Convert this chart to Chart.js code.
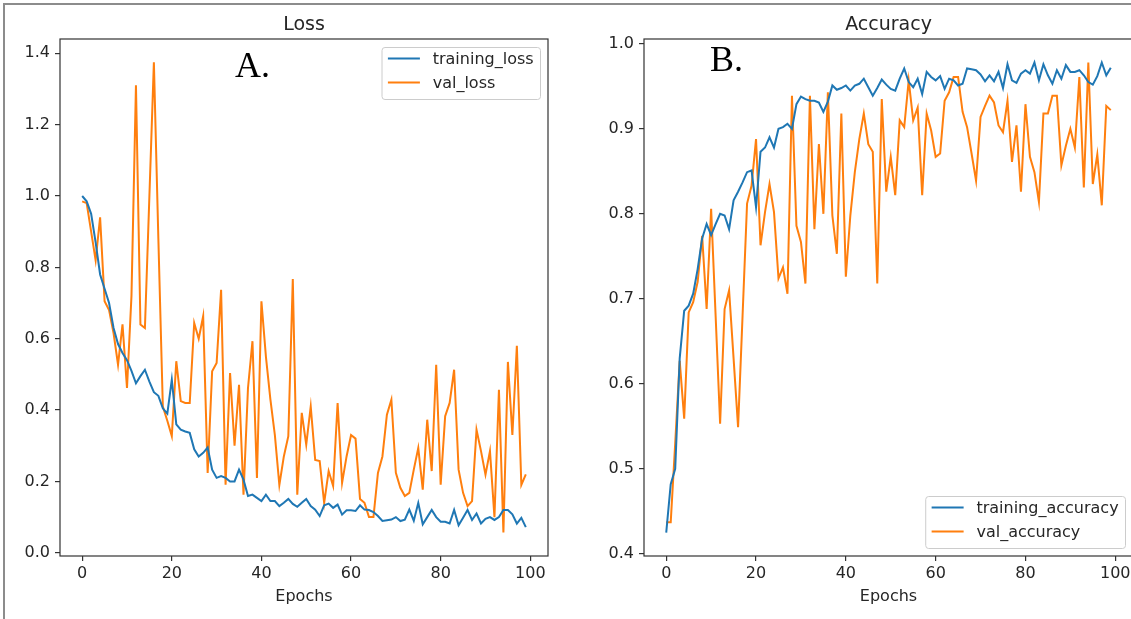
<!DOCTYPE html>
<html>
<head>
<meta charset="utf-8">
<title>Loss / Accuracy</title>
<script src="https://cdn.jsdelivr.net/npm/chart.js@4.4.0/dist/chart.umd.min.js"></script>
<style>
  html, body { margin: 0; padding: 0; background: #fff; overflow: hidden; }
  body { width: 1131px; height: 619px; position: relative; }
  #frame { position: absolute; left: 3px; top: 3px; width: 1300px; height: 800px;
           border-top: 2px solid #8c8c8c; border-left: 2px solid #8c8c8c; }
  canvas { position: absolute; top: 0; }
  #lossChart { left: 0; }
  #accChart { left: 590px; }
</style>
</head>
<body>
<div id="frame"></div>
<canvas id="lossChart" width="590" height="619"></canvas>
<canvas id="accChart" width="600" height="619"></canvas>
<script>
'use strict';

// epochs 0..99
const epochs = Array.from({ length: 100 }, (_, i) => i);
const epochTicks = [0, 20, 40, 60, 80, 100];
const lossTicks = [0.0, 0.2, 0.4, 0.6, 0.8, 1.0, 1.2, 1.4];
const accTicks = [0.4, 0.5, 0.6, 0.7, 0.8, 0.9, 1.0];

const trainingLoss = [
  1.00, 0.985, 0.95, 0.87, 0.78, 0.74, 0.70, 0.63, 0.585, 0.56,
  0.54, 0.51, 0.475, 0.495, 0.513, 0.48, 0.45, 0.44, 0.405, 0.39,
  0.485, 0.36, 0.345, 0.34, 0.336, 0.29, 0.27, 0.28, 0.295, 0.233,
  0.21, 0.215, 0.21, 0.20, 0.20, 0.233, 0.205, 0.159, 0.163, 0.154,
  0.145, 0.163, 0.145, 0.145, 0.131, 0.14, 0.151, 0.137, 0.129, 0.14,
  0.151, 0.131, 0.121, 0.103, 0.133, 0.138, 0.126, 0.135, 0.107, 0.119,
  0.119, 0.117, 0.133, 0.121, 0.12, 0.114, 0.103, 0.089, 0.091, 0.093,
  0.10, 0.089, 0.093, 0.121, 0.09, 0.14, 0.08, 0.10, 0.12, 0.10,
  0.087, 0.087, 0.082, 0.12, 0.077, 0.098, 0.12, 0.092, 0.11, 0.082,
  0.095, 0.10, 0.092, 0.10, 0.12, 0.12, 0.108, 0.082, 0.098, 0.072
];
const valLoss = [
  0.985, 0.98, 0.90, 0.82, 0.94, 0.705, 0.68, 0.616, 0.527, 0.64,
  0.462, 0.72, 1.31, 0.64, 0.63, 1.0, 1.375, 0.88, 0.41, 0.37,
  0.327, 0.537, 0.425, 0.42, 0.42, 0.644, 0.60, 0.663, 0.224, 0.509,
  0.532, 0.737, 0.191, 0.504, 0.30, 0.471, 0.163, 0.462, 0.593, 0.21,
  0.705, 0.55, 0.43, 0.33, 0.19, 0.27, 0.327, 0.767, 0.163, 0.392,
  0.303, 0.41, 0.26, 0.257, 0.14, 0.229, 0.187, 0.42, 0.196, 0.27,
  0.33, 0.32, 0.151, 0.14, 0.10, 0.10, 0.224, 0.27, 0.387, 0.429,
  0.224, 0.182, 0.159, 0.168, 0.233, 0.294, 0.177, 0.373, 0.229, 0.527,
  0.191, 0.383, 0.42, 0.513, 0.233, 0.168, 0.131, 0.145, 0.345, 0.285,
  0.219, 0.285, 0.10, 0.457, 0.057, 0.535, 0.33, 0.58, 0.19, 0.22
];
const trainingAcc = [
  0.425, 0.482, 0.50, 0.63, 0.686, 0.692, 0.706, 0.735, 0.771, 0.788,
  0.775, 0.788, 0.80, 0.798, 0.782, 0.816, 0.826, 0.837, 0.849, 0.851,
  0.808, 0.873, 0.878, 0.89, 0.878, 0.90, 0.902, 0.906, 0.90, 0.929,
  0.938, 0.935, 0.933, 0.933, 0.931, 0.92, 0.932, 0.951, 0.946, 0.948,
  0.951, 0.945, 0.951, 0.953, 0.959, 0.949, 0.939, 0.948, 0.958, 0.952,
  0.947, 0.945, 0.959, 0.971, 0.955, 0.949, 0.959, 0.941, 0.967, 0.961,
  0.957, 0.962, 0.947, 0.959, 0.957, 0.951, 0.953, 0.971, 0.97, 0.969,
  0.964, 0.956, 0.963, 0.956, 0.967, 0.948, 0.976, 0.957, 0.954, 0.965,
  0.969, 0.965, 0.978, 0.957, 0.976, 0.963, 0.953, 0.969, 0.959, 0.975,
  0.967, 0.967, 0.969, 0.963, 0.955, 0.952, 0.962, 0.978, 0.963, 0.972
];
const valAcc = [
  0.437, 0.437, 0.53, 0.627, 0.559, 0.684, 0.696, 0.72, 0.774, 0.688,
  0.806, 0.68, 0.553, 0.688, 0.71, 0.63, 0.549, 0.68, 0.812, 0.833,
  0.888, 0.763, 0.802, 0.835, 0.802, 0.724, 0.737, 0.706, 0.939, 0.786,
  0.767, 0.718, 0.939, 0.782, 0.882, 0.80, 0.943, 0.798, 0.753, 0.918,
  0.726, 0.798, 0.849, 0.888, 0.918, 0.882, 0.873, 0.718, 0.935, 0.826,
  0.867, 0.822, 0.91, 0.902, 0.957, 0.91, 0.925, 0.822, 0.918, 0.898,
  0.867, 0.871, 0.933, 0.943, 0.961, 0.961, 0.92, 0.902, 0.871, 0.839,
  0.914, 0.927, 0.939, 0.931, 0.904, 0.896, 0.933, 0.861, 0.904, 0.826,
  0.929, 0.867, 0.849, 0.814, 0.918, 0.918, 0.939, 0.939, 0.857, 0.88,
  0.90, 0.878, 0.961, 0.831, 0.978, 0.835, 0.87, 0.81, 0.927, 0.922
];

const BLUE = '#1f77b4';
const ORANGE = '#ff7f0e';
const TEXT = '#262626';
const FONT = '"DejaVu Sans", sans-serif';

// frame, title, panel letter, legend and x label (matplotlib look)
const decor = {
  id: 'decor',
  afterDraw(chart, args, opts) {
    const ctx = chart.ctx;
    const a = chart.chartArea;
    const cx = (a.left + a.right) / 2;
    ctx.save();

    ctx.strokeStyle = '#333';
    ctx.lineWidth = 1.2;
    ctx.strokeRect(a.left, a.top, a.right - a.left, a.bottom - a.top);

    ctx.fillStyle = TEXT;
    ctx.textAlign = 'center';
    ctx.textBaseline = 'alphabetic';
    ctx.font = '19px ' + FONT;
    ctx.fillText(opts.title, cx, 30);
    ctx.font = '16px ' + FONT;
    ctx.fillText('Epochs', cx, 601);

    ctx.fillStyle = '#000';
    ctx.textAlign = 'left';
    ctx.font = '36px "Liberation Serif", serif';
    ctx.fillText(opts.tag, opts.tagX, opts.tagY);

    // legend
    const fs = 16;
    ctx.font = fs + 'px ' + FONT;
    const sets = chart.data.datasets;
    const tw = Math.max(...sets.map(d => ctx.measureText(d.label).width));
    const w = fs * 3.6 + tw;
    const h = 52;
    const x = a.right - 8 - w;
    const y = opts.legend === 'top' ? a.top + 8 : a.bottom - 8 - h;
    ctx.beginPath();
    ctx.roundRect(x + 0.5, y + 0.5, w, h, 3);
    ctx.fillStyle = 'rgba(255,255,255,0.8)';
    ctx.fill();
    ctx.strokeStyle = '#cccccc';
    ctx.lineWidth = 1;
    ctx.stroke();
    sets.forEach((d, i) => {
      const ry = y + 11.5 + i * 24;
      ctx.beginPath();
      ctx.moveTo(x + fs * 0.4, ry);
      ctx.lineTo(x + fs * 2.4, ry);
      ctx.strokeStyle = d.borderColor;
      ctx.lineWidth = 2;
      ctx.stroke();
      ctx.fillStyle = TEXT;
      ctx.textBaseline = 'middle';
      ctx.fillText(d.label, x + fs * 3.2, ry + 1);
    });
    ctx.restore();
  }
};

function makeChart(id, cfg) {
  const tickFont = { family: FONT, size: 16 };
  const tickGrid = { display: true, drawOnChartArea: false, drawTicks: true,
                     tickLength: 5, color: '#333', lineWidth: 1.2 };
  return new Chart(document.getElementById(id), {
    type: 'line',
    data: {
      labels: epochs,
      datasets: [
        { label: cfg.names[0], data: cfg.series[0], borderColor: BLUE },
        { label: cfg.names[1], data: cfg.series[1], borderColor: ORANGE }
      ]
    },
    options: {
      responsive: false,
      animation: false,
      devicePixelRatio: 1,
      layout: { padding: cfg.padding },
      elements: {
        line: { borderWidth: 2, tension: 0, fill: false },
        point: { radius: 0, hoverRadius: 0 }
      },
      plugins: {
        legend: { display: false },
        title: { display: false },
        tooltip: { enabled: false },
        decor: cfg.decor
      },
      scales: {
        x: {
          type: 'linear', position: 'bottom', bounds: 'data',
          min: -4.95, max: 103.95,
          afterBuildTicks: s => { s.ticks = epochTicks.map(v => ({ value: v })); },
          afterFit: s => { s.height = 50; },
          grid: tickGrid, border: { display: false },
          ticks: { font: tickFont, color: TEXT, padding: 3, maxRotation: 0,
                   callback: v => String(v) }
        },
        y: {
          type: 'linear', position: 'left', bounds: 'data',
          min: cfg.yMin, max: cfg.yMax,
          afterBuildTicks: s => { s.ticks = cfg.yTicks.map(v => ({ value: v })); },
          afterFit: s => { s.width = cfg.yWidth; },
          grid: tickGrid, border: { display: false },
          ticks: { font: tickFont, color: TEXT, padding: 5,
                   callback: v => v.toFixed(1) }
        }
      }
    },
    plugins: [decor]
  });
}

makeChart('lossChart', {
  names: ['training_loss', 'val_loss'],
  series: [trainingLoss, valLoss],
  yMin: -0.009, yMax: 1.44, yTicks: lossTicks, yWidth: 50,
  padding: { left: 10, right: 42, top: 39, bottom: 13 },
  decor: { title: 'Loss', tag: 'A.', tagX: 235, tagY: 76.5, legend: 'top' }
});

makeChart('accChart', {
  names: ['training_accuracy', 'val_accuracy'],
  series: [trainingAcc, valAcc],
  yMin: 0.3974, yMax: 1.0057, yTicks: accTicks, yWidth: 46,
  padding: { left: 8, right: 57, top: 39, bottom: 13 },
  decor: { title: 'Accuracy', tag: 'B.', tagX: 120, tagY: 70.5, legend: 'bottom' }
});
</script>
</body>
</html>
